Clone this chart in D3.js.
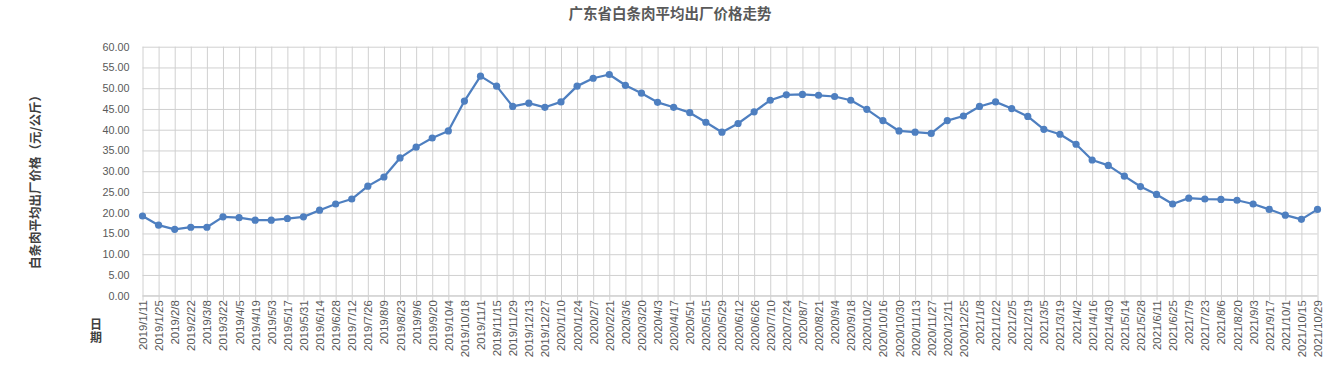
<!DOCTYPE html>
<html>
<head>
<meta charset="utf-8">
<script src="https://cdn.jsdelivr.net/npm/d3@7/dist/d3.min.js"></script>
<style>
  html, body { margin: 0; padding: 0; background: #fff; }
  svg { display: block; }
</style>
</head>
<body>
<svg id="chart" width="1332" height="366"></svg>
<script>
const dates = ["2019/1/11","2019/1/25","2019/2/8","2019/2/22","2019/3/8","2019/3/22","2019/4/5","2019/4/19","2019/5/3","2019/5/17","2019/5/31","2019/6/14","2019/6/28","2019/7/12","2019/7/26","2019/8/9","2019/8/23","2019/9/6","2019/9/20","2019/10/4","2019/10/18","2019/11/1","2019/11/15","2019/11/29","2019/12/13","2019/12/27","2020/1/10","2020/1/24","2020/2/7","2020/2/21","2020/3/6","2020/3/20","2020/4/3","2020/4/17","2020/5/1","2020/5/15","2020/5/29","2020/6/12","2020/6/26","2020/7/10","2020/7/24","2020/8/7","2020/8/21","2020/9/4","2020/9/18","2020/10/2","2020/10/16","2020/10/30","2020/11/13","2020/11/27","2020/12/11","2020/12/25","2021/1/8","2021/1/22","2021/2/5","2021/2/19","2021/3/5","2021/3/19","2021/4/2","2021/4/16","2021/4/30","2021/5/14","2021/5/28","2021/6/11","2021/6/25","2021/7/9","2021/7/23","2021/8/6","2021/8/20","2021/9/3","2021/9/17","2021/10/1","2021/10/15","2021/10/29"];
const prices = [19.2,17.0,16.0,16.5,16.5,19.0,18.8,18.2,18.2,18.6,19.0,20.6,22.1,23.3,26.4,28.6,33.2,35.8,38.0,39.7,46.9,52.9,50.5,45.6,46.4,45.4,46.7,50.5,52.4,53.3,50.7,48.8,46.6,45.4,44.1,41.8,39.4,41.5,44.3,47.1,48.4,48.5,48.3,48.0,47.1,44.9,42.2,39.7,39.4,39.1,42.2,43.3,45.6,46.7,45.1,43.2,40.1,38.9,36.5,32.7,31.4,28.8,26.3,24.4,22.1,23.5,23.3,23.2,23.0,22.1,20.8,19.4,18.4,20.8];
const yTicks = [0,5,10,15,20,25,30,35,40,45,50,55,60];
const title = "广东省白条肉平均出厂价格走势";
const yTitle = "白条肉平均出厂价格（元/公斤）";
const xTitle = "日期";

(function () {
const svg = d3.select("#chart");
const L = 142.5, R = 1317.5, T = 46.7, B = 295.7;

const x = d3.scalePoint().domain(dates).range([L, R]).padding(0);
const y = d3.scaleLinear().domain([0, 60]).range([B, T]);

const gridColor = "#d0d0d0";
const textColor = "#595959";
const lineColor = "#4e7fc0";

// horizontal gridlines
const yAxis = d3.axisLeft(y).tickValues(yTicks).tickFormat(d3.format(".2f")).tickSize(-(R - L)).tickPadding(13);
const gy = svg.append("g").attr("transform", `translate(${L},0)`).call(yAxis);
gy.select(".domain").remove();
gy.selectAll(".tick line").attr("stroke", gridColor).attr("stroke-width", 1);
gy.selectAll(".tick text").attr("fill", textColor).attr("font-family", "Liberation Sans, Arial, sans-serif").attr("font-size", "10.8px");

// vertical gridlines
const xGrid = d3.axisBottom(x).tickSize(-(B - T)).tickFormat("");
const gxg = svg.append("g").attr("transform", `translate(0,${B})`).call(xGrid);
gxg.select(".domain").remove();
gxg.selectAll(".tick line").attr("stroke", gridColor).attr("stroke-width", 1);

// bottom axis with ticks and labels
const xAxis = d3.axisBottom(x).tickSize(5).tickPadding(4);
const gx = svg.append("g").attr("transform", `translate(0,${B})`).call(xAxis);
gx.select(".domain").attr("stroke", gridColor).attr("d", `M${L},0H${R}`);
gx.selectAll(".tick line").attr("stroke", gridColor);
gx.selectAll(".tick text")
  .attr("fill", textColor)
  .attr("font-family", "Liberation Sans, Arial, sans-serif")
  .attr("font-size", "11.4px")
  .attr("text-anchor", "end")
  .attr("transform", "rotate(-90)")
  .attr("x", -4.5)
  .attr("y", 0)
  .attr("dy", "0.35em");

// line
const line = d3.line().x((d, i) => x(dates[i])).y(d => y(d));
svg.append("path").datum(prices)
  .attr("fill", "none").attr("stroke", lineColor).attr("stroke-width", 2.25)
  .attr("stroke-linejoin", "round")
  .attr("d", line);

svg.append("g").selectAll("circle").data(prices).join("circle")
  .attr("cx", (d, i) => x(dates[i]))
  .attr("cy", d => y(d))
  .attr("r", 3.6)
  .attr("fill", lineColor);

// title
svg.append("text")
  .attr("x", 670).attr("y", 19)
  .attr("text-anchor", "middle")
  .attr("font-family", "Noto Sans CJK SC, sans-serif")
  .attr("font-weight", "bold")
  .attr("font-size", "14.5px")
  .attr("fill", textColor)
  .text(title);

// y title
svg.append("text")
  .attr("transform", "translate(36,179) rotate(-90)")
  .attr("text-anchor", "middle")
  .attr("dy", "0.35em")
  .attr("font-family", "Noto Sans CJK SC, sans-serif")
  .attr("font-weight", "bold")
  .attr("font-size", "12.5px")
  .attr("fill", "#404040")
  .text(yTitle);

// x title (vertical, upright characters)
svg.append("text")
  .attr("x", 96)
  .attr("y", 318)
  .attr("text-anchor", "start")
  .style("writing-mode", "vertical-rl")
  .style("text-orientation", "upright")
  .attr("letter-spacing", "1px")
  .attr("font-family", "Noto Sans CJK SC, sans-serif")
  .attr("font-weight", "bold")
  .attr("font-size", "12px")
  .attr("fill", "#404040")
  .text(xTitle);
})();
</script>
</body>
</html>
